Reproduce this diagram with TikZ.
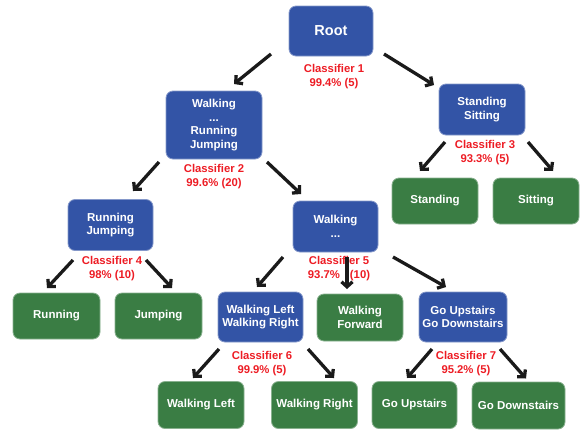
\documentclass[tikz,border=0pt]{standalone}
\usepackage{fontspec}
\setmainfont{Liberation Sans}
\usetikzlibrary{arrows.meta,calc}
\definecolor{boxblue}{RGB}{51,84,166}
\definecolor{boxgreen}{RGB}{58,125,68}
\definecolor{labred}{RGB}{237,28,36}
\definecolor{arrblack}{RGB}{26,26,26}
\tikzset{
  basebox/.style={rounded corners=7pt, text=white, align=center, inner sep=0pt,
    font=\bfseries\fontsize{11.5}{13.5}\selectfont, line width=0.8pt},
  bluebox/.style={basebox, fill=boxblue, draw=boxblue!60!white},
  greenbox/.style={basebox, fill=boxgreen, draw=boxgreen!60!white},
  clabel/.style={text=labred, align=center, inner sep=0pt,
    font=\bfseries\fontsize{11.3}{14}\selectfont},
  arr/.style={draw=arrblack, line width=3.3pt, -{Straight Barb[length=5pt,width=11pt]}},
}
\begin{document}
\begin{tikzpicture}[x=1pt,y=-1pt]
\useasboundingbox (0,0) rectangle (584,432);
% internal nodes
\node[bluebox, minimum width=84pt, minimum height=50pt, font=\bfseries\fontsize{14.5}{16}\selectfont] (root) at (331,31) {Root};
\node[bluebox, minimum width=96pt, minimum height=68pt] (walk) at (214,125) {Walking\\...\\Running\\Jumping};
\node[bluebox, minimum width=86pt, minimum height=51pt] (stand) at (482,109.5) {Standing\\Sitting};
\node[bluebox, minimum width=85pt, minimum height=51pt] (runjump) at (110.5,225) {Running\\Jumping};
\node[bluebox, minimum width=85pt, minimum height=51pt] (walkdots) at (335.5,226.5) {Walking\\...};
\node[bluebox, minimum width=85pt, minimum height=50pt] (wlr) at (260.5,317) {Walking Left\\Walking Right};
\node[bluebox, minimum width=88pt, minimum height=50pt] (updown) at (463,317) {Go Upstairs\\Go Downstairs};
% leaves
\node[greenbox, minimum width=86pt, minimum height=46pt] (standing) at (435,201) {Standing};
\node[greenbox, minimum width=86pt, minimum height=46pt] (sitting) at (536,201) {Sitting};
\node[greenbox, minimum width=87pt, minimum height=46pt] (running) at (56.5,316) {Running};
\node[greenbox, minimum width=87pt, minimum height=46pt] (jumping) at (158.5,316) {Jumping};
\node[greenbox, minimum width=86pt, minimum height=47pt] (wfwd) at (360,317.5) {Walking\\Forward};
\node[greenbox, minimum width=86pt, minimum height=47pt] (wleft) at (201,405) {Walking Left};
\node[greenbox, minimum width=86pt, minimum height=47pt] (wright) at (314.5,405) {Walking Right};
\node[greenbox, minimum width=85pt, minimum height=47pt] (goup) at (414.5,405) {Go Upstairs};
\node[greenbox, minimum width=93pt, minimum height=47pt] (godown) at (518.5,405.5) {Go Downstairs};
% classifier labels
\node[clabel] (c1) at (334,77) {Classifier 1\\99.4\% (5)};
\node[clabel] (c2) at (214,177) {Classifier 2\\99.6\% (20)};
\node[clabel] (c3) at (485,153) {Classifier 3\\93.3\% (5)};
\node[clabel] (c4) at (112,269) {Classifier 4\\98\% (10)};
\node[clabel] (c5) at (339,269) {Classifier 5\\93.7\%\hspace{10pt}(10)};
\node[clabel] (c6) at (262,364) {Classifier 6\\99.9\% (5)};
\node[clabel] (c7) at (466,364) {Classifier 7\\95.2\% (5)};
% arrows
\draw[arr] ($(root)+(-60,23)$) -- ($(walk)+(20,-41)$);
\draw[arr] ($(root)+(53,23)$) -- ($(stand)+(-48,-24.5)$);
\draw[arr] ($(walk)+(-55,37)$) -- ($(runjump)+(22.5,-34)$);
\draw[arr] ($(walk)+(53,37)$) -- ($(walkdots)+(-34.5,-32.5)$);
\draw[arr] ($(stand)+(-37,32.5)$) -- ($(standing)+(-15,-30)$);
\draw[arr] ($(stand)+(46,32.5)$) -- ($(sitting)+(17,-30)$);
\draw[arr] ($(runjump)+(-37.5,35)$) -- ($(running)+(-9.5,-28)$);
\draw[arr] ($(runjump)+(35.5,35)$) -- ($(jumping)+(13.5,-28)$);
\draw[arr] ($(walkdots)+(-52.5,30.5)$) -- ($(wlr)+(-3.5,-30)$);
\draw[arr] ($(walkdots)+(11.5,30.5)$) -- ($(wfwd)+(-13,-28.5)$);
\draw[arr] ($(walkdots)+(57.5,30.5)$) -- ($(updown)+(-17,-30)$);
\draw[arr] ($(wlr)+(-41.5,32)$) -- ($(wleft)+(-8,-27)$);
\draw[arr] ($(wlr)+(47.5,32)$) -- ($(wright)+(19.5,-27)$);
\draw[arr] ($(updown)+(-31,32)$) -- ($(goup)+(-7.5,-27)$);
\draw[arr] ($(updown)+(37,32)$) -- ($(godown)+(7.5,-27)$);
\end{tikzpicture}
\end{document}
